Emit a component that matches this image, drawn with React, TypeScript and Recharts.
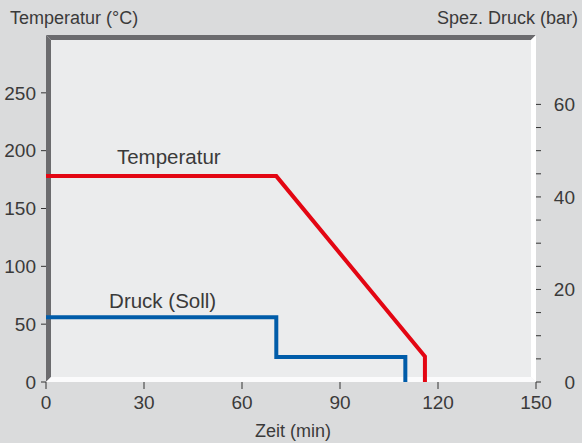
import React from 'react';
import { ComposedChart, Line, XAxis, YAxis, ReferenceArea, ReferenceDot } from 'recharts';

const timeTicks = [0, 30, 60, 90, 120, 150];
const tempTicks = [0, 50, 100, 150, 200, 250];
const pressureTicks = [0, 5, 10, 15, 20, 25, 30, 35, 40, 45, 50, 55, 60];
const pressureLabelEvery = 20;

const tempSeries = [
  { t: 0, v: 178 },
  { t: 70.5, v: 178 },
  { t: 116, v: 22 },
  { t: 116, v: 0 },
];
const pressureSeries = [
  { t: 0, v: 14 },
  { t: 70.5, v: 14 },
  { t: 70.5, v: 5.4 },
  { t: 110, v: 5.4 },
  { t: 110, v: 0 },
];

const FONT = '"Liberation Sans", Arial, sans-serif';
const TEXT = '#3a3a3a';
const PAGE_BG = '#dadbdc';
const PLOT_BG = '#ebeced';
const DARK = '#6b6b6e';
const RED = '#e30613';
const BLUE = '#005ca9';
const TICK_FS = 19;

const Frame = (p: any) => {
  const { x, y, width: w, height: h } = p;
  const t = 5;
  return (
    <g>
      <rect x={x} y={y} width={w} height={h} fill={PLOT_BG} />
      <polygon points={`${x},${y} ${x + w},${y} ${x + w - t},${y + t} ${x + t},${y + t}`} fill={DARK} />
      <polygon points={`${x},${y} ${x + t},${y + t} ${x + t},${y + h - t} ${x},${y + h}`} fill={DARK} />
      <polygon points={`${x + w},${y} ${x + w},${y + h} ${x + w - t},${y + h - t} ${x + w - t},${y + t}`} fill="#ffffff" />
    </g>
  );
};

const BottomBand = (p: any) => {
  const { x, y, width: w, height: h } = p;
  const t = 5;
  return (
    <polygon
      points={`${x},${y + h} ${x + t},${y + h - t} ${x + w - t},${y + h - t} ${x + w},${y + h}`}
      fill="#ffffff"
      fillOpacity={0.8}
    />
  );
};

const RightTick = (props: any) => {
  const { x, y, payload } = props;
  if (payload.value % pressureLabelEvery !== 0) return <g />;
  return (
    <text x={x + 24} y={y} dy="0.355em" textAnchor="end" fill={TEXT} fontSize={TICK_FS} fontFamily={FONT}>
      {payload.value}
    </text>
  );
};

export default function App() {
  return (
    <div style={{ position: 'absolute', left: 0, top: 0, width: 582, height: 443, background: PAGE_BG, fontFamily: FONT }}>
      <div style={{ position: 'absolute', left: 10, top: 9, fontSize: 18, lineHeight: '18px', color: TEXT, whiteSpace: 'nowrap' }}>
        Temperatur (°C)
      </div>
      <div style={{ position: 'absolute', right: 4, top: 9, fontSize: 18, lineHeight: '18px', color: TEXT, whiteSpace: 'nowrap' }}>
        Spez. Druck (bar)
      </div>
      <div style={{ position: 'absolute', left: 293 - 60, width: 120, textAlign: 'center', top: 422, fontSize: 18, lineHeight: '18px', color: TEXT, whiteSpace: 'nowrap' }}>
        Zeit (min)
      </div>
      <ComposedChart width={582} height={443} margin={{ top: 35, right: 0, bottom: 0, left: 0 }} style={{ position: 'absolute', left: 0, top: 0 }}>
        <XAxis
          dataKey="t"
          type="number"
          domain={[0, 150]}
          ticks={timeTicks}
          height={61}
          axisLine={false}
          tickLine={{ stroke: '#333' }}
          tickSize={7}
          tickMargin={7}
          tick={{ fill: TEXT, fontSize: TICK_FS, fontFamily: FONT }}
          allowDataOverflow
        />
        <YAxis
          yAxisId="left"
          orientation="left"
          type="number"
          domain={[0, 300]}
          ticks={tempTicks}
          width={46}
          axisLine={false}
          tickLine={{ stroke: '#333' }}
          tickSize={5}
          tickMargin={5}
          tick={{ fill: TEXT, fontSize: TICK_FS, fontFamily: FONT }}
          allowDataOverflow
        />
        <YAxis
          yAxisId="right"
          orientation="right"
          type="number"
          domain={[0, 75]}
          ticks={pressureTicks}
          width={46}
          axisLine={false}
          tickLine={{ stroke: '#333' }}
          tickSize={5}
          tickMargin={10}
          tick={RightTick}
          interval={0}
          allowDataOverflow
        />
        <ReferenceArea yAxisId="left" x1={0} x2={150} y1={0} y2={300} shape={Frame} ifOverflow="visible" />
        <Line
          yAxisId="left"
          data={tempSeries}
          dataKey="v"
          type="linear"
          stroke={RED}
          strokeWidth={4}
          dot={false}
          activeDot={false}
          isAnimationActive={false}
          strokeLinejoin="miter"
        />
        <Line
          yAxisId="right"
          data={pressureSeries}
          dataKey="v"
          type="linear"
          stroke={BLUE}
          strokeWidth={4}
          dot={false}
          activeDot={false}
          isAnimationActive={false}
          strokeLinejoin="miter"
        />
        <ReferenceArea yAxisId="left" x1={0} x2={150} y1={0} y2={300} shape={BottomBand} ifOverflow="visible" />
        <ReferenceDot
          yAxisId="left"
          x={37.6}
          y={195}
          r={0}
          fill="none"
          stroke="none"
          label={{ value: 'Temperatur', position: 'center', fill: TEXT, fontSize: 20.5, fontFamily: FONT }}
        />
        <ReferenceDot
          yAxisId="left"
          x={35.7}
          y={70}
          r={0}
          fill="none"
          stroke="none"
          label={{ value: 'Druck (Soll)', position: 'center', fill: TEXT, fontSize: 20.5, fontFamily: FONT }}
        />
      </ComposedChart>
    </div>
  );
}
